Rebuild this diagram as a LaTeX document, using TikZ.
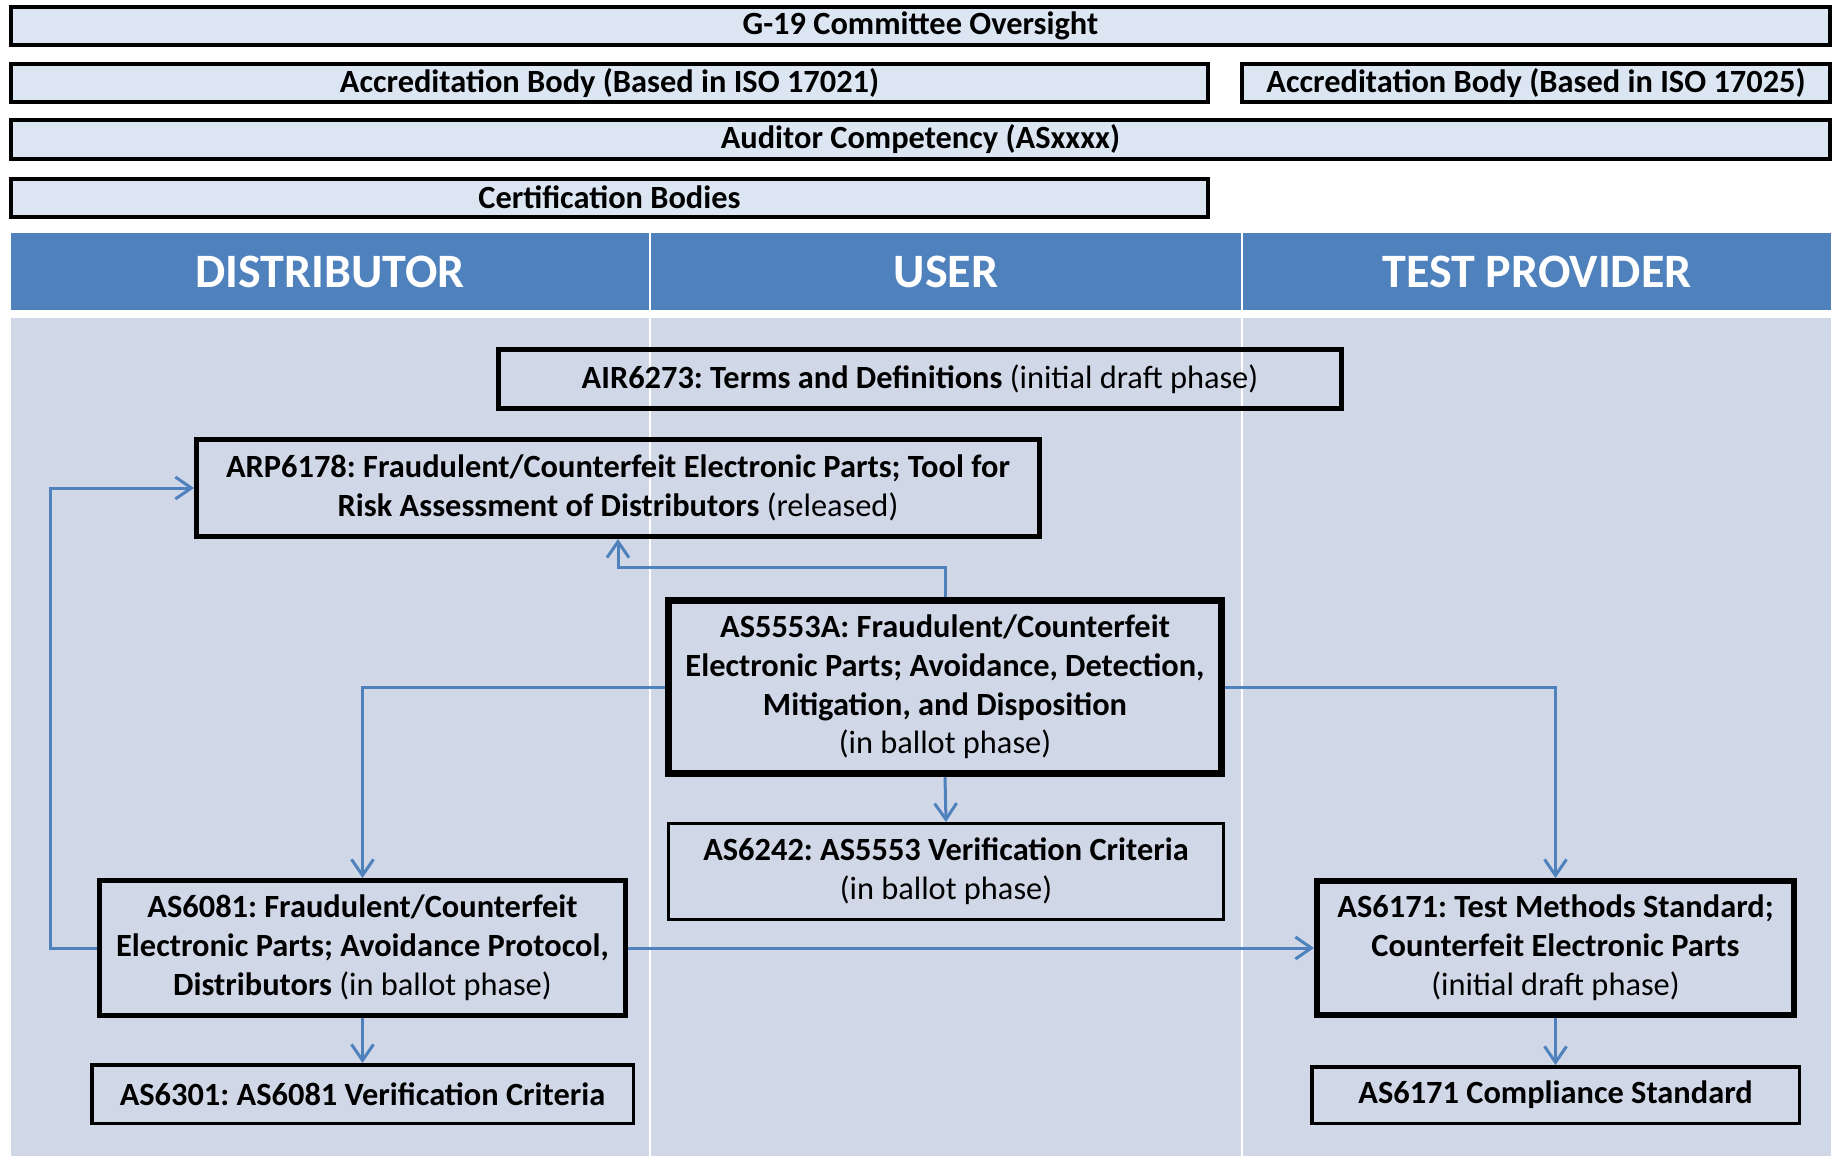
\documentclass[tikz,border=0pt]{standalone}
\usepackage{fontspec}
\setmainfont{Carlito}
\usetikzlibrary{arrows.meta, positioning, calc}
\definecolor{headblue}{HTML}{4F81BD}
\definecolor{barfill}{HTML}{DCE6F2}
\definecolor{lanefill}{HTML}{D0D8E8}
\frenchspacing

\begin{document}
\begin{tikzpicture}[x = 0.5pt, y = -0.5pt,
    bar/.style = {draw=black, fill=barfill, line width=2pt, inner sep=0pt,
                  minimum height=19pt, font=\bfseries\fontsize{16.2}{18}\selectfont},
    colhead/.style = {fill=headblue, text=white, inner sep=0pt, minimum height=38.5pt,
                      font=\bfseries\fontsize{24}{28}\selectfont},
    doc/.style = {draw=black, align=center, inner sep=0pt,
                  font=\fontsize{16.2}{19.4}\selectfont},
    link/.style = {draw=headblue, line width=1.5pt,
                   -{Straight Barb[length=8pt, width=11pt]}}]

    \useasboundingbox (0,0) rectangle (1841,1156);

    % Barre di supervisione
    \node[bar, minimum width=909.5pt] (g19) at (920.5,26) {G-19 Committee Oversight};
    \node[bar, minimum width=598.5pt] (acc1) at (609.5,83) {Accreditation Body (Based in ISO 17021)};
    \node[bar, minimum width=294pt] (acc2) at (1536,83) {Accreditation Body (Based in ISO 17025)};
    \node[bar, minimum width=909.5pt] (audit) at (920.5,139.5) {Auditor Competency (ASxxxx)};
    \node[bar, minimum width=598.5pt] (cert) at (609.5,197.5) {Certification Bodies};

    % Corsie
    \fill[lanefill] (11,318) rectangle (649,1156);
    \fill[lanefill] (651,318) rectangle (1241,1156);
    \fill[lanefill] (1243,318) rectangle (1831,1156);

    % Intestazioni
    \node[colhead, minimum width=319pt] (distr) at (330,271.5) {DISTRIBUTOR};
    \node[colhead, minimum width=295pt] (user) at (946,271.5) {USER};
    \node[colhead, minimum width=294pt] (tprov) at (1537,271.5) {TEST PROVIDER};

    % Documenti
    \node[doc, line width=2.5pt, minimum width=421.5pt, minimum height=29.5pt] (air) at (920,379)
        {\textbf{AIR6273: Terms and Definitions} (initial draft phase)};
    \node[doc, line width=2.5pt, minimum width=421.5pt, minimum height=48.5pt] (arp) at (618,488)
        {\textbf{ARP6178: Fraudulent/Counterfeit Electronic Parts; Tool for}\\
         \textbf{Risk Assessment of Distributors} (released)};
    \node[doc, line width=3.5pt, minimum width=276.5pt, minimum height=86.5pt] (as5553a) at (945,687)
        {\textbf{AS5553A: Fraudulent/Counterfeit}\\
         \textbf{Electronic Parts; Avoidance, Detection,}\\
         \textbf{Mitigation, and Disposition}\\
         (in ballot phase)};
    \node[doc, line width=1.5pt, minimum width=277.5pt, minimum height=48pt] (as6242) at (946,871.5)
        {\textbf{AS6242: AS5553 Verification Criteria}\\ (in ballot phase)};
    \node[doc, line width=2.5pt, minimum width=263pt, minimum height=67.5pt] (as6081) at (362.5,948)
        {\textbf{AS6081: Fraudulent/Counterfeit}\\
         \textbf{Electronic Parts; Avoidance Protocol,}\\
         \textbf{Distributors} (in ballot phase)};
    \node[doc, line width=1.75pt, minimum width=270.75pt, minimum height=29.25pt] (as6301) at (362.5,1094)
        {\textbf{AS6301: AS6081 Verification Criteria}};
    \node[doc, line width=3pt, minimum width=238.5pt, minimum height=67pt] (as6171) at (1555.5,948)
        {\textbf{AS6171: Test Methods Standard;}\\
         \textbf{Counterfeit Electronic Parts}\\
         (initial draft phase)};
    \node[doc, line width=1.75pt, minimum width=243.75pt, minimum height=28.25pt] (as6171c) at (1555.5,1095)
        {\textbf{AS6171 Compliance Standard}};

    % Collegamenti
    \draw[link] (as5553a.north) -- ++(0,-30) -| (arp.south);
    \draw[link] (as5553a.west) -| (as6081.north);
    \draw[link] (as5553a.east) -| (as6171.north);
    \draw[link] (as5553a.south) -- (as6242.north);
    \draw[link] (as6081.west) -- ++(-47,0) |- (arp.west);
    \draw[link] (as6081.east) -- (as6171.west);
    \draw[link] (as6081.south) -- (as6301.north);
    \draw[link] (as6171.south) -- (as6171c.north);

\end{tikzpicture}
\end{document}
